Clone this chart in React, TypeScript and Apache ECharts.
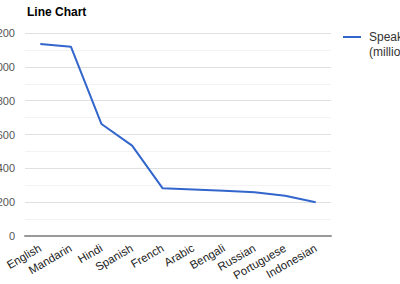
import React, { useEffect, useRef } from "react";
import * as echarts from "echarts";

const categories = ["English", "Mandarin", "Hindi", "Spanish", "French", "Arabic", "Bengali", "Russian", "Portuguese", "Indonesian"];
const speakers = [1135, 1119, 662, 534, 282, 275, 267, 258, 238, 199];
const seriesName = "Speakers (millions)";

export default function App() {
  const ref = useRef<HTMLDivElement>(null);
  useEffect(() => {
    if (!ref.current) return;
    const chart = echarts.init(ref.current, null, { renderer: "svg" });
    chart.setOption({
      animation: false,
      textStyle: { fontFamily: "Liberation Sans, Arial, sans-serif" },
      title: {
        text: "Line Chart",
        left: 22,
        top: 1,
        textStyle: { fontSize: 12, fontWeight: "bold", color: "#000" },
      },
      legend: {
        left: 343,
        top: 29,
        padding: 0,
        icon: "path://M0,0H18V2H0ZM0,16H0.05V16.05H0Z",
        itemWidth: 18,
        itemHeight: 17,
        itemGap: 5,
        formatter: () => "Speakers\n(millions)",
        textStyle: { fontSize: 12, color: "#333", lineHeight: 15, padding: [0, 0, 0, 3] },
        data: [seriesName],
      },
      grid: { left: 25, right: 69, top: 33, bottom: 48, outerBoundsMode: "none", containLabel: false },
      xAxis: {
        type: "category",
        data: categories,
        boundaryGap: true,
        axisLine: { lineStyle: { color: "#999", width: 2 } },
        axisTick: { show: false },
        axisLabel: { interval: 0, rotate: 30, fontSize: 11.5, color: "#222", margin: 11 },
      },
      yAxis: {
        type: "value",
        min: 0,
        max: 1200,
        interval: 200,
        axisLine: { show: false },
        axisTick: { show: false },
        axisLabel: { fontSize: 11, color: "#555", margin: 10, formatter: (v: number) => String(v) },
        splitLine: { lineStyle: { color: "#e0e0e0", width: 1 } },
        minorTick: { show: false, splitNumber: 2 },
        minorSplitLine: { show: true, lineStyle: { color: "#f3f3f3", width: 1 } },
      },
      series: [
        {
          name: seriesName,
          type: "line",
          data: speakers,
          symbol: "none",
          showSymbol: false,
          lineStyle: { color: "#3366cc", width: 2 },
          itemStyle: { color: "#3366cc" },
        },
      ],
    });
    return () => chart.dispose();
  }, []);
  return (
    <div
      ref={ref}
      style={{ position: "absolute", left: 0, top: 0, width: 400, height: 284, background: "#fff" }}
    />
  );
}
